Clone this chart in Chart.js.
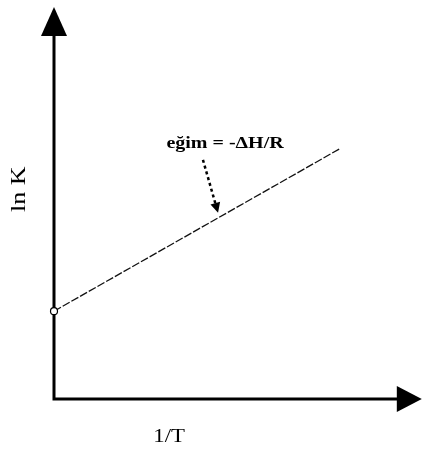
<!DOCTYPE html>
<html>
<head>
<meta charset="utf-8">
<script src="https://cdn.jsdelivr.net/npm/chart.js@4/dist/chart.umd.min.js"></script>
<style>
  body { margin: 0; background: #fff; }
  #wrap { width: 427px; height: 462px; }
</style>
</head>
<body>
<div id="wrap"><canvas id="lnkChart"></canvas></div>
<script>
// line values (arbitrary units, axes run 0..100)
var lineX = [0, 78];
var lineY = [22.4, 64];

// annotation texts and where they sit (data units)
var slopeLabel = 'eğim = -ΔH/R';
var slopeLabelAt = [46.5, 65];
var pointerFrom = [40.5, 61];
var pointerTo = [44.6, 47.5];
var xTitle = '1/T';
var xTitleAt = [31.3, -9.8];
var yTitle = 'ln K';
var yTitleAt = [-9.4, 53.5];

function stretchText(ctx, text, x, y, font, sx, rot) {
    ctx.save();
    ctx.translate(x, y);
    if (rot) ctx.rotate(rot);
    ctx.scale(sx, 1);
    ctx.font = font + ' "Liberation Serif", "Times New Roman", serif';
    ctx.textAlign = 'center';
    ctx.textBaseline = 'middle';
    ctx.fillText(text, 0, 0);
    ctx.restore();
}

var diagramPlugin = {
    id: 'diagram',
    beforeDatasetsDraw: function(chart) {
        var ctx = chart.ctx, xs = chart.scales.x, ys = chart.scales.y;
        var x0 = xs.getPixelForValue(0), y0 = ys.getPixelForValue(0);
        var xEnd = xs.getPixelForValue(xs.max), yEnd = ys.getPixelForValue(ys.max);
        ctx.save();
        ctx.strokeStyle = '#000';
        ctx.fillStyle = '#000';
        ctx.lineWidth = 3;
        ctx.beginPath();
        ctx.moveTo(x0, y0 + 1.5);
        ctx.lineTo(x0, yEnd + 20);
        ctx.moveTo(x0 - 1.5, y0);
        ctx.lineTo(xEnd - 20, y0);
        ctx.stroke();
        // arrow heads
        ctx.beginPath();
        ctx.moveTo(x0, yEnd);
        ctx.lineTo(x0 - 13, yEnd + 29);
        ctx.lineTo(x0 + 13, yEnd + 29);
        ctx.closePath();
        ctx.fill();
        ctx.beginPath();
        ctx.moveTo(xEnd, y0);
        ctx.lineTo(xEnd - 25, y0 - 13);
        ctx.lineTo(xEnd - 25, y0 + 13);
        ctx.closePath();
        ctx.fill();
        ctx.restore();
    },
    afterDraw: function(chart) {
        var ctx = chart.ctx, xs = chart.scales.x, ys = chart.scales.y;
        ctx.save();
        ctx.fillStyle = '#000';
        ctx.strokeStyle = '#000';

        stretchText(ctx, slopeLabel, xs.getPixelForValue(slopeLabelAt[0]), ys.getPixelForValue(slopeLabelAt[1]), 'bold 16px', 1.25, 0);
        stretchText(ctx, xTitle, xs.getPixelForValue(xTitleAt[0]), ys.getPixelForValue(xTitleAt[1]), '19px', 1.2, 0);
        stretchText(ctx, yTitle, xs.getPixelForValue(yTitleAt[0]), ys.getPixelForValue(yTitleAt[1]), '20px', 1.3, -Math.PI / 2);

        // dashed pointer to the line
        var fx = xs.getPixelForValue(pointerFrom[0]), fy = ys.getPixelForValue(pointerFrom[1]);
        var tx = xs.getPixelForValue(pointerTo[0]), ty = ys.getPixelForValue(pointerTo[1]);
        var ang = Math.atan2(ty - fy, tx - fx);
        var hl = 10, hw = 5;
        var bx = tx - hl * Math.cos(ang), by = ty - hl * Math.sin(ang);
        ctx.lineWidth = 2.5;
        ctx.setLineDash([3, 3]);
        ctx.beginPath();
        ctx.moveTo(fx, fy);
        ctx.lineTo(bx, by);
        ctx.stroke();
        ctx.setLineDash([]);
        ctx.beginPath();
        ctx.moveTo(tx, ty);
        ctx.lineTo(bx + hw * Math.sin(ang), by - hw * Math.cos(ang));
        ctx.lineTo(bx - hw * Math.sin(ang), by + hw * Math.cos(ang));
        ctx.closePath();
        ctx.fill();
        ctx.restore();
    }
};

var ctx = document.getElementById('lnkChart').getContext('2d');
var lnkChart = new Chart(ctx, {
    type: 'scatter',
    data: {
        datasets: [{
            data: lineX.map(function(x, i) { return { x: x, y: lineY[i] }; }),
            showLine: true,
            borderColor: '#111',
            borderWidth: 1.3,
            borderDash: [8, 2],
            pointRadius: [3.5, 0],
            pointBorderWidth: 1.2,
            pointBorderColor: '#000',
            pointBackgroundColor: '#fff',
            clip: false
        }]
    },
    options: {
        responsive: true,
        maintainAspectRatio: false,
        animation: false,
        events: [],
        layout: { padding: { left: 54, right: 0, top: 7, bottom: 63 } },
        plugins: {
            legend: { display: false },
            tooltip: { enabled: false }
        },
        scales: {
            x: { type: 'linear', min: 0, max: 100, display: false },
            y: { type: 'linear', min: 0, max: 100, display: false }
        }
    },
    plugins: [diagramPlugin]
});
</script>
</body>
</html>
